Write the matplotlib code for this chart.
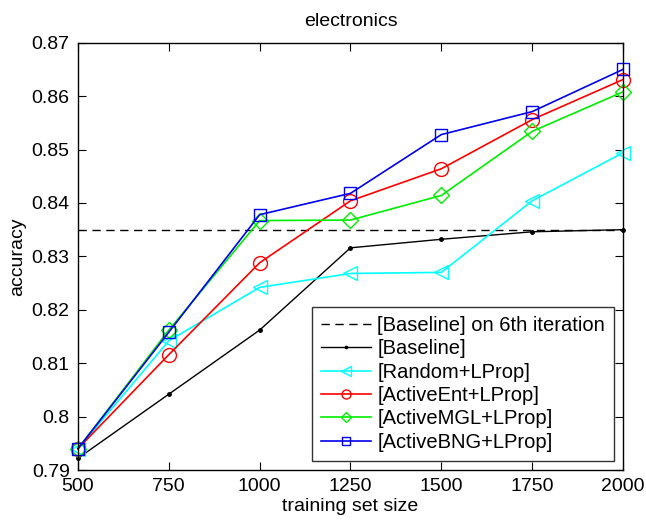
import matplotlib
matplotlib.use("Agg")
import matplotlib.pyplot as plt
from matplotlib.ticker import FixedLocator, FixedFormatter

plt.rcParams['font.family'] = ['Liberation Sans', 'DejaVu Sans']

sizes = [500, 750, 1000, 1250, 1500, 1750, 2000]
baseline_6th = 0.835
baseline = [0.7922, 0.8042, 0.8162, 0.8316, 0.8332, 0.8346, 0.8350]
random_lprop = [0.7940, 0.8142, 0.8242, 0.8268, 0.8270, 0.8404, 0.8494]
activeent = [0.7940, 0.8116, 0.8288, 0.8404, 0.8464, 0.8556, 0.8631]
activemgl = [0.7940, 0.8162, 0.8367, 0.8368, 0.8414, 0.8534, 0.8608]
activebng = [0.7940, 0.8158, 0.8378, 0.8418, 0.8528, 0.8571, 0.8650]

yticks = [0.79, 0.80, 0.81, 0.82, 0.83, 0.84, 0.85, 0.86, 0.87]
ytick_labels = ["0.79", "0.8", "0.81", "0.82", "0.83", "0.84", "0.85", "0.86", "0.87"]

fig = plt.figure(figsize=(6.46, 5.24), dpi=100)
ax = fig.add_axes([0.1207, 0.103, 0.8437, 0.8155])

ax.plot([sizes[0], sizes[-1]], [baseline_6th, baseline_6th], color='black',
        linestyle=(0, (6, 4)), lw=1.0, label='[Baseline] on 6th iteration')
ax.plot(sizes, baseline, color='black', marker='.', markersize=5, lw=1.0,
        label='[Baseline]', clip_on=False)
ax.plot(sizes, random_lprop, color='#00ffff', marker='<', markersize=10,
        markerfacecolor='none', lw=1.2, label='[Random+LProp]', clip_on=False)
ax.plot(sizes, activeent, color='red', marker='o', markersize=10,
        markerfacecolor='none', lw=1.2, label='[ActiveEnt+LProp]', clip_on=False)
ax.plot(sizes, activemgl, color='#00ee00', marker='D', markersize=8,
        markerfacecolor='none', lw=1.2, label='[ActiveMGL+LProp]', clip_on=False)
ax.plot(sizes, activebng, color='#0000ee', marker='s', markersize=8,
        markerfacecolor='none', lw=1.2, label='[ActiveBNG+LProp]', clip_on=False)

ax.set_xlim(500, 2000)
ax.set_ylim(0.79, 0.87)
ax.set_xticks(sizes)
ax.set_xticklabels([str(s) for s in sizes])
ax.yaxis.set_major_locator(FixedLocator(yticks))
ax.yaxis.set_major_formatter(FixedFormatter(ytick_labels))
ax.tick_params(direction='in', top=True, right=True, labelsize=14, length=6, pad=6)
for sp in ax.spines.values():
    sp.set_linewidth(1.0)

ax.set_xlabel('training set size', fontsize=14, labelpad=2)
ax.set_ylabel('accuracy', fontsize=14, labelpad=4)
ax.set_title('electronics', fontsize=14, pad=12)

leg = ax.legend(loc='lower right', fontsize=14.5, frameon=True, fancybox=False,
                edgecolor='black', handlelength=2.5, handletextpad=0.3,
                labelspacing=0.22, borderpad=0.45, borderaxespad=0.45,
                markerscale=0.65)
leg.get_frame().set_linewidth(1.0)

fig.savefig('out.png', dpi=100)
